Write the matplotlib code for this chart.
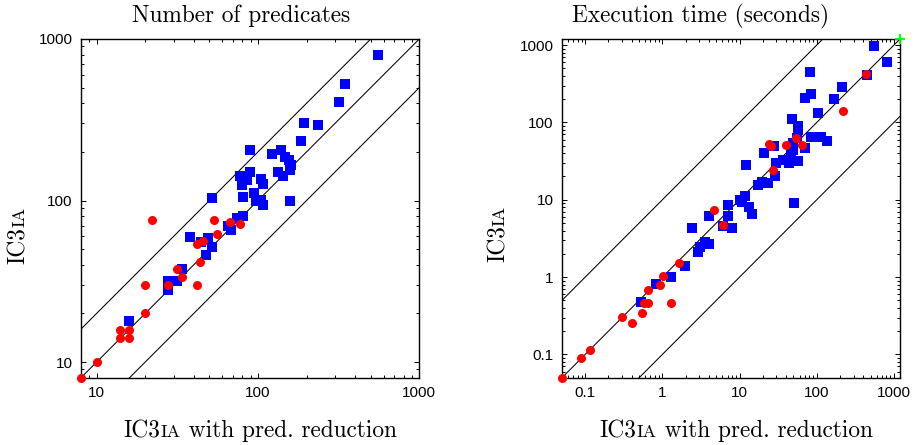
import matplotlib
matplotlib.use('Agg')
import matplotlib.pyplot as plt
from matplotlib.ticker import LogLocator, FuncFormatter, NullFormatter

# --- number of predicates (left) ---
pred_sq_x = [557, 345, 316, 193, 234, 184, 88.7, 123, 139, 147, 156, 161, 134, 143, 158,
             88.7, 77.8, 85, 79.3, 105, 107, 81, 94.8, 96.8, 105, 108, 157, 51.6,
             74.5, 81, 65.5, 68.4, 37.8, 44.2, 49.3, 51.9, 47.4, 33.7, 31.5, 27.6, 27.6, 15.9]
pred_sq_y = [800, 528, 409, 301, 294, 234, 206, 194, 206, 186, 178, 166, 151, 142, 154,
             151, 142, 134, 124, 136, 127, 105, 112, 99, 101, 94.4, 99, 103,
             78.5, 80.7, 69.7, 66.1, 59.6, 55.5, 59, 51.6, 45.8, 37.9, 31.8, 31.8, 27.8, 18]
pred_ci_x = [8, 10, 13.9, 15.9, 13.9, 15.9, 20, 20, 21.9, 27.7, 31.7, 33.7, 41.6, 41.6,
             45.7, 43.8, 53.4, 55.5, 67.5, 77.4]
pred_ci_y = [8, 10, 15.9, 15.9, 14, 14, 20, 29.9, 75.5, 29.9, 37.9, 33.6, 29.9, 53.6,
             56, 41.7, 75.5, 61.8, 73.8, 71.3]

# --- execution time (right) ---
time_sq_x = [546, 813, 446, 80.7, 210, 165, 83.2, 70.2, 104, 47.6, 57, 57, 83.2, 115, 137,
             49.6, 54.8, 70.2, 28.1, 20.6, 49.6, 47.1, 57.3, 43.5, 36.7, 30.1, 28.4, 23.7,
             19.8, 17.1, 12.3, 11.7, 10.1, 10.7, 13.2, 14.3, 51.5, 7.05, 7.05, 6.07, 7.94,
             3.99, 2.45, 3.58, 4.04, 3.11, 2.87, 1.99, 1.28, 0.828, 0.535]
time_sq_y = [984, 611, 410, 454, 290, 199, 231, 205, 134, 112, 90.8, 79.8, 64.1, 64.1, 58.1,
             54.7, 62.4, 46.2, 49.5, 39.9, 44, 38.7, 32.1, 30.2, 32.7, 30.2, 20.3, 16.3,
             17.1, 15.4, 27.9, 11.3, 9.9, 9.3, 8.1, 6.6, 9.0, 8.65, 6.24, 4.62, 4.35,
             6.24, 4.35, 2.87, 2.71, 2.48, 2.13, 1.41, 1.0, 0.815, 0.481]
time_ci_x = [0.05, 0.088, 0.114, 0.303, 0.405, 0.54, 0.579, 0.652, 0.659, 0.933, 1.02, 1.31,
             1.63, 4.63, 6.18, 24.4, 25.4, 27, 39.8, 53.7, 64.3, 220, 430]
time_ci_y = [0.05, 0.089, 0.115, 0.308, 0.252, 0.343, 0.458, 0.468, 0.674, 0.80, 1.02, 0.458,
             1.52, 7.38, 4.67, 52.1, 50, 24.5, 51, 63.5, 50.6, 139, 419]
time_out_x = [1200]
time_out_y = [1200]

pred_lim = (8, 1000)
time_lim = (0.05, 1200)
pred_factors = [0.5, 1, 2]
time_factors = [0.1, 1, 10]

W, H = 921, 445
fig = plt.figure(figsize=(W / 100, H / 100), dpi=100)
ax1 = fig.add_axes([81 / W, 1 - 377.7 / H, 338.3 / W, 338.7 / H])
ax2 = fig.add_axes([562 / W, 1 - 377.7 / H, 338 / W, 338.7 / H])


def setup(ax, lim, factors):
    ax.set_xscale('log')
    ax.set_yscale('log')
    ax.set_xlim(lim)
    ax.set_ylim(lim)
    for f in factors:
        ax.plot(lim, [lim[0] * f, lim[1] * f], color='black', lw=0.75, zorder=1)
    for a in (ax.xaxis, ax.yaxis):
        a.set_major_locator(LogLocator(base=10, numticks=10))
        a.set_minor_locator(LogLocator(base=10, subs=range(2, 10), numticks=10))
        a.set_major_formatter(FuncFormatter(lambda v, p: '%g' % v))
        a.set_minor_formatter(NullFormatter())
    ax.tick_params(which='both', direction='in', top=True, right=True, width=0.7,
                   labelsize=11, pad=6)
    ax.tick_params(which='major', length=3.5)
    ax.tick_params(which='minor', length=2)
    for lab in ax.get_xticklabels() + ax.get_yticklabels():
        lab.set_family('Liberation Sans')
    for s in ax.spines.values():
        s.set_linewidth(1.0)


setup(ax1, pred_lim, pred_factors)
setup(ax2, time_lim, time_factors)

ax1.plot(pred_sq_x, pred_sq_y, 's', color='#0000ff', ms=6.5, mew=0, zorder=3, clip_on=False)
ax1.plot(pred_ci_x, pred_ci_y, 'o', color='#ff0000', ms=6.5, mew=0, zorder=4, clip_on=False)
ax2.plot(time_sq_x, time_sq_y, 's', color='#0000ff', ms=6.5, mew=0, zorder=3, clip_on=False)
ax2.plot(time_ci_x, time_ci_y, 'o', color='#ff0000', ms=6.5, mew=0, zorder=4, clip_on=False)
ax2.plot(time_out_x, time_out_y, '+', color='#00ff00', ms=7, mew=1.3, zorder=5, clip_on=False)

SERIF = 'cmr10'
FS = 16.8


def label(cx, by, parts, rot=0):
    # parts placed along the baseline, centred on cx (pixels from the left/top)
    r = fig.canvas.get_renderer()
    items = []
    for s, fs in parts:
        t = fig.text(0, 0, s, fontsize=fs, family=SERIF, rotation=rot,
                     rotation_mode='anchor', ha='left', va='baseline')
        bb = t.get_window_extent(r)
        items.append((t, bb.height if rot else bb.width))
    total = sum(w for _, w in items)
    pos = -total / 2
    for t, w in items:
        if rot:
            t.set_position((by / W, 1 - (cx - pos) / H))
        else:
            t.set_position(((cx + pos) / W, 1 - by / H))
        pos += w


sc = [('IC3', FS), ('IA', FS * 0.78)]
xl = sc + [(' with pred. reduction', FS)]

label(241, 22, [('Number of predicates', FS)])
label(701, 22, [('Execution time (seconds)', FS)])
label(260, 437, xl)
label(736, 437, xl)
label(235, 25, sc, rot=90)
label(234, 505, sc, rot=90)

fig.savefig('out.png', dpi=100)
